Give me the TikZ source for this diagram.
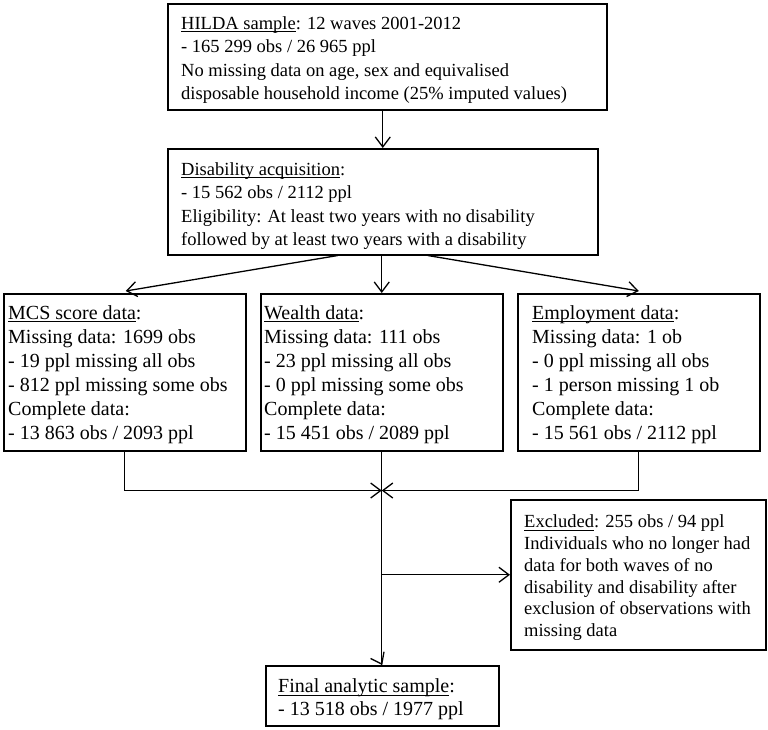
\documentclass[tikz,border=0pt]{standalone}
\usepackage{fontspec}
\setmainfont{Liberation Serif}
\usetikzlibrary{arrows.meta,calc}
\newcommand{\myul}[1]{\setbox0\hbox{#1}\rlap{\rule[-2.6pt]{\wd0}{0.9pt}}\box0}
\begin{document}
\begin{tikzpicture}[x=1pt,y=-1pt,
  box/.style={draw,line width=1.5pt,rectangle,inner sep=0pt,anchor=north west},
  txtA/.style={anchor=west,inner sep=0pt,align=left,font=\fontsize{18.5}{23.5}\selectfont},
  txtB/.style={anchor=west,inner sep=0pt,align=left,font=\fontsize{20}{24}\selectfont},
  txtC/.style={anchor=west,inner sep=0pt,align=left,font=\fontsize{18.5}{21.7}\selectfont},
  txtD/.style={anchor=west,inner sep=0pt,align=left,font=\fontsize{20}{23}\selectfont},
  conn/.style={line width=1.3pt},
  arr/.style={line width=1.3pt,-{Straight Barb[length=10pt,width=15pt,line width=1.3pt]}}]
\useasboundingbox (0,0) rectangle (768,729);

% boxes
\node[box,minimum width=439pt,minimum height=106pt] (hilda) at (167,3) {};
\node[box,minimum width=430pt,minimum height=106pt] (dis) at (167,148) {};
\node[box,minimum width=242pt,minimum height=157pt] (mcs) at (3,293) {};
\node[box,minimum width=242pt,minimum height=157pt] (wealth) at (260,293) {};
\node[box,minimum width=242pt,minimum height=157pt] (emp) at (517,293) {};
\node[box,minimum width=255pt,minimum height=150pt] (excl) at (510,499) {};
\node[box,minimum width=233pt,minimum height=60pt] (final) at (265,665) {};

% texts
\node[txtA,xshift=14pt,yshift=-3.2pt] (hildaT) at (hilda.west) {\myul{HILDA sample}: 12 waves 2001-2012\\- 165 299 obs / 26 965 ppl\\No missing data on age, sex and equivalised\\disposable household income (25\% imputed values)};
\node[txtA,xshift=14pt,yshift=-4.5pt] (disT) at (dis.west) {\myul{Disability acquisition}:\\- 15 562 obs / 2112 ppl\\Eligibility: At least two years with no disability\\followed by at least two years with a disability};
\node[txtB,xshift=5pt,yshift=-2pt] (mcsT) at (mcs.west) {\myul{MCS score data}:\\Missing data: 1699 obs\\- 19 ppl missing all obs\\- 812 ppl missing some obs\\Complete data:\\- 13 863 obs / 2093 ppl};
\node[txtB,xshift=4pt,yshift=-2pt] (wealthT) at (wealth.west) {\myul{Wealth data}:\\Missing data: 111 obs\\- 23 ppl missing all obs\\- 0 ppl missing some obs\\Complete data:\\- 15 451 obs / 2089 ppl};
\node[txtB,xshift=15pt,yshift=-2pt] (empT) at (emp.west) {\myul{Employment data}:\\Missing data: 1 ob\\- 0 ppl missing all obs\\- 1 person missing 1 ob\\Complete data:\\- 15 561 obs / 2112 ppl};
\node[txtC,xshift=14pt,yshift=-3pt] (exclT) at (excl.west) {\myul{Excluded}: 255 obs / 94 ppl\\Individuals who no longer had\\data for both waves of no\\disability and disability after\\exclusion of observations with\\missing data};
\node[txtD,xshift=13pt,yshift=-3.8pt] (finalT) at (final.west) {\myul{Final analytic sample}:\\- 13 518 obs / 1977 ppl};

% connectors
\draw[arr] (dis.north |- hilda.south) -- (dis.north);
\draw[arr] ($(dis.south)+(-45,0)$) -- ($(mcs.north)+(1,-2)$);
\draw[arr] (wealth.north |- dis.south) -- (wealth.north);
\draw[arr] ($(dis.south)+(45,0)$) -- ($(emp.north)+(0,-2)$);

\coordinate (join) at ($(wealth.south)+(0,39)$);
\draw[conn] (wealth.south) -- (wealth.south |- final.north);
\draw[arr] (wealth.south |- final.north) ++(0,-1) -- (final.north);
\draw[arr] (mcs.south) -- (mcs.south |- join) -- (join);
\draw[arr] (emp.south) -- (emp.south |- join) -- (join);
\draw[arr] (wealth.south |- excl.west) -- (excl.west);
\end{tikzpicture}
\end{document}
